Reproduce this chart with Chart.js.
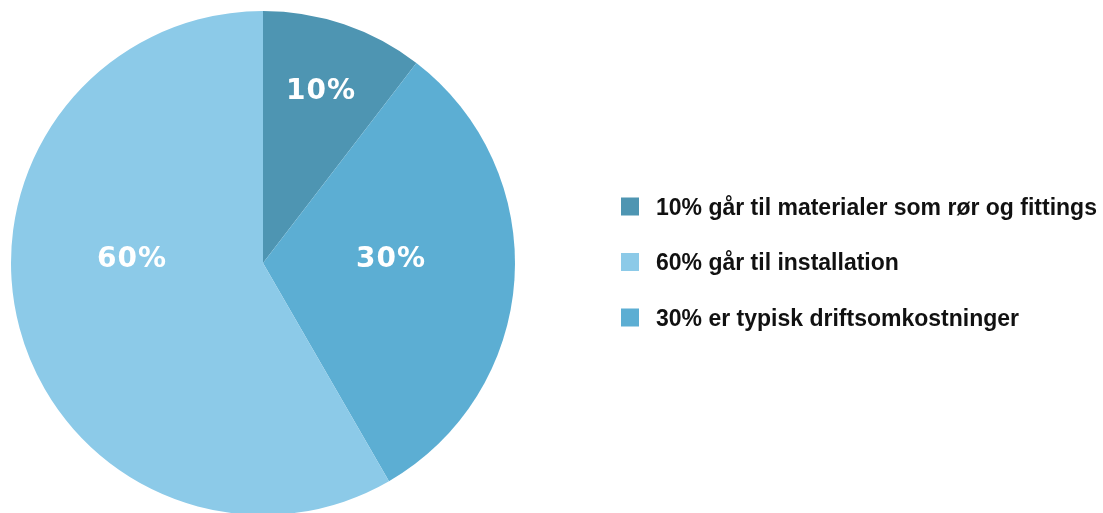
<!DOCTYPE html>
<html>
<head>
<meta charset="utf-8">
<script src="https://cdn.jsdelivr.net/npm/chart.js@4.4.1/dist/chart.umd.min.js"></script>
<style>
  html, body { margin: 0; padding: 0; background: #ffffff; overflow: hidden; }
  #wrap { position: relative; width: 1103px; height: 513px; }
</style>
</head>
<body>
<div id="wrap"><canvas id="c" width="1103" height="513"></canvas></div>
<script>
// ---- data ----
const categories = [
  '10% går til materialer som rør og fittings',
  '30% er typisk driftsomkostninger',
  '60% går til installation'
];
const values = [10, 30, 56];
const sliceLabels = ['10%', '30%', '60%'];
const legendOrder = [0, 2, 1];
const colors = ['#4e95b2', '#5caed3', '#8ccae8'];

// slice label placement, as fractions of the radius from the pie centre
const labelOffsets = [[0.230, -0.651], [0.508, 0.014], [-0.520, 0.014]];

const sliceLabelPlugin = {
  id: 'sliceLabels',
  afterDatasetsDraw(chart) {
    const meta = chart.getDatasetMeta(0);
    const ctx = chart.ctx;
    ctx.save();
    ctx.fillStyle = '#ffffff';
    ctx.font = 'bold 28px "DejaVu Sans"';
    if ('letterSpacing' in ctx) ctx.letterSpacing = '1px';
    ctx.textAlign = 'center';
    ctx.textBaseline = 'alphabetic';
    meta.data.forEach((arc, i) => {
      const r = arc.outerRadius;
      const x = arc.x + labelOffsets[i][0] * r;
      const y = arc.y + labelOffsets[i][1] * r;
      ctx.fillText(sliceLabels[i], x, y);
    });
    ctx.restore();
  }
};

const sideLegendPlugin = {
  id: 'sideLegend',
  afterDraw(chart, args, opts) {
    const ctx = chart.ctx;
    ctx.save();
    ctx.font = 'bold 23px "Liberation Sans", Arial, sans-serif';
    ctx.textAlign = 'left';
    ctx.textBaseline = 'alphabetic';
    legendOrder.forEach((idx, row) => {
      const top = opts.top + row * opts.rowGap;
      ctx.fillStyle = colors[idx];
      ctx.fillRect(opts.left, top, opts.box, opts.box);
      ctx.fillStyle = '#111111';
      ctx.fillText(categories[idx], opts.textLeft, top + 17);
    });
    ctx.restore();
  }
};

new Chart(document.getElementById('c'), {
  type: 'pie',
  data: {
    labels: categories,
    datasets: [{
      data: values,
      backgroundColor: colors,
      borderWidth: 0,
      radius: 252
    }]
  },
  options: {
    responsive: false,
    animation: false,
    layout: { padding: { left: 0, right: 577, top: 13, bottom: 0 } },
    plugins: {
      legend: { display: false },
      tooltip: { enabled: false },
      sideLegend: { left: 621, top: 197.5, rowGap: 55.5, box: 18, textLeft: 656 }
    }
  },
  plugins: [sliceLabelPlugin, sideLegendPlugin]
});
</script>
</body>
</html>
